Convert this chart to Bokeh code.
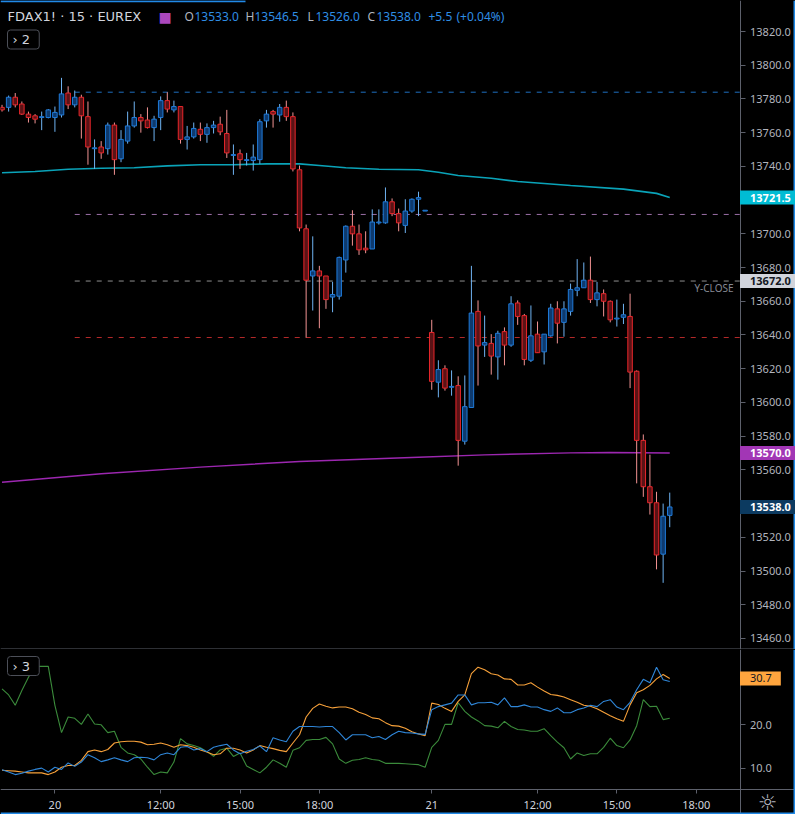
from bokeh.plotting import figure
from bokeh.models import (Range1d, FixedTicker, Label, Span, NumeralTickFormatter,
                          ColumnDataSource, LinearAxis)
from bokeh.layouts import column
from bokeh.embed import file_html
from bokeh.resources import INLINE

# ---------------- data ----------------
bar_index = list(range(102))
opens = [13775, 13775, 13781, 13777, 13771, 13770, 13769, 13769, 13769, 13770.5,
         13783.5, 13776.5, 13781, 13769.5, 13750.5, 13751.5, 13750.5, 13764.5, 13744.5, 13755,
         13764, 13769, 13767.5, 13763, 13769, 13779, 13773.5, 13775.5, 13756, 13757.5,
         13762, 13759, 13763, 13765, 13759.5, 13746.5, 13747.5, 13743.5, 13743.5, 13744,
         13767, 13772.5, 13770.5, 13775, 13769.5, 13738, 13703, 13675, 13678, 13675,
         13662.5, 13663, 13684.5, 13704.5, 13700, 13691.5, 13691, 13706.5, 13706.5, 13719,
         13712, 13705, 13713.5, 13720.5, 13713.5, 13641.5, 13612, 13620, 13609, 13610,
         13577, 13597, 13654, 13634, 13635, 13627, 13642, 13634, 13659, 13651.5,
         13625, 13640.5, 13630, 13639.5, 13655.5, 13647.5, 13654, 13666.5, 13668, 13672.5,
         13661, 13664.5, 13660, 13649.5, 13650.5, 13651, 13618.5, 13577.5, 13550, 13540.5,
         13510, 13533]
highs = [13776.5, 13782, 13783.5, 13778.5, 13772.5, 13771, 13772.5, 13774, 13775.5, 13792.5,
         13787.5, 13785, 13782.5, 13778.5, 13756, 13755, 13766, 13766, 13761.5, 13772.5,
         13778.5, 13771, 13775, 13770, 13781.5, 13784, 13779, 13775.5, 13764, 13766,
         13766, 13765.5, 13767, 13769.5, 13773.5, 13753, 13750, 13748, 13753, 13768,
         13773.5, 13773.5, 13777, 13779, 13772, 13740.5, 13705.5, 13698.5, 13681, 13675,
         13671.5, 13686.5, 13705, 13714, 13705.5, 13701.5, 13714.5, 13714.5, 13727.5, 13721,
         13715, 13720.5, 13721, 13725, 13714, 13649, 13625, 13622, 13619, 13615.5,
         13616, 13681, 13660.5, 13651.5, 13640.5, 13642.5, 13644.5, 13663, 13660.5, 13652.5,
         13657.5, 13648, 13640.5, 13658.5, 13660, 13660, 13670.5, 13685, 13683, 13686.5,
         13671.5, 13667, 13660.5, 13661, 13658.5, 13664.5, 13619, 13581, 13569, 13547,
         13540, 13546.5]
lows = [13772.5, 13772.5, 13775, 13770.5, 13766, 13765.5, 13761.5, 13768.5, 13760.5, 13769,
        13774, 13775, 13756.5, 13741, 13738.5, 13744.5, 13747, 13735, 13742.5, 13753.5,
        13763, 13760, 13762.5, 13755, 13761.5, 13772, 13772, 13753.5, 13750, 13756.5,
        13755, 13754, 13759.5, 13758.5, 13745, 13735, 13738.5, 13740.5, 13737.5, 13741.5,
        13763, 13763, 13766.5, 13767, 13737, 13701.5, 13638.5, 13654.5, 13644, 13655.5,
        13653.5, 13661, 13677, 13693, 13687.5, 13688.5, 13691, 13705.5, 13706, 13710.5,
        13701.5, 13700.5, 13712.5, 13710.5, 13713.5, 13607.5, 13603, 13607, 13604, 13562.5,
        13575, 13597, 13610, 13627, 13616.5, 13613.5, 13622, 13633, 13646, 13622,
        13624, 13629.5, 13622.5, 13639, 13635, 13639, 13651.5, 13663, 13668, 13659,
        13657, 13651, 13647.5, 13645, 13646.5, 13608.5, 13552, 13544, 13533.5, 13501,
        13493, 13526]
closes = [13773.5, 13781, 13776.5, 13771, 13769, 13768, 13769.5, 13773.5, 13772, 13783,
          13776.5, 13781, 13770, 13751.5, 13751, 13748, 13764.5, 13744, 13756, 13764,
          13769, 13767, 13763, 13768, 13779, 13774, 13775.5, 13756, 13757.5, 13762.5,
          13759, 13763, 13764.5, 13760.5, 13748, 13747, 13744, 13744, 13745.5, 13766.5,
          13771, 13771, 13775, 13769.5, 13738.5, 13703.5, 13672.5, 13678, 13675, 13661,
          13664, 13686, 13704.5, 13700, 13690.5, 13690.5, 13707, 13707, 13719, 13712,
          13706.5, 13713.5, 13720.5, 13721.5, 13714, 13612.5, 13619.5, 13608.5, 13609.5, 13577.5,
          13597.5, 13653, 13633.5, 13635.5, 13627.5, 13641, 13634, 13658.5, 13651, 13625.5,
          13639.5, 13629.5, 13640.5, 13656, 13647, 13655.5, 13667, 13668, 13672.5, 13661,
          13665, 13660, 13649, 13650, 13652, 13618, 13577.5, 13550, 13540.5, 13509.5,
          13532.5, 13538]

# moving averages (sampled bars)
ma_fast_bars = [0, 5, 10, 15, 20, 25, 30, 35, 40, 45, 48, 52, 57, 63, 66, 69, 74, 78, 86, 94, 99, 101]
ma_fast_vals = [13736.2, 13737, 13738.3, 13738.9, 13739.2, 13740.3, 13741, 13741, 13741.5, 13741.5,
                13740.5, 13739.2, 13738.3, 13738, 13736.5, 13734.6, 13733, 13731, 13728.7, 13726.5,
                13724, 13721.5]
ma_slow_bars = [0, 15, 30, 45, 63, 73, 86, 92, 101]
ma_slow_vals = [13552.7, 13557.7, 13561.6, 13565, 13567.5, 13568.9, 13570.1, 13570.3, 13570.0]

# horizontal levels
level_names = ["high", "pivot", "y-close", "low"]
level_prices = [13784, 13711.5, 13672, 13638.5]
level_start_bar = [11, 11, 11, 11]

# indicator pane (DMI)
adx_blue = [9.6, 9.1, 8.5, 8.8, 9.3, 9.7, 10.0, 9.1, 10.2, 9.7,
            11.2, 10.4, 11.4, 13.1, 12.4, 11.5, 11.9, 12.4, 11.9, 11.5,
            12.4, 12.5, 12.4, 11.9, 13.1, 13.5, 13.1, 14.8, 15.0, 14.2,
            14.5, 13.8, 14.8, 15.2, 15.5, 14.2, 13.3, 13.9, 14.3, 15.1,
            13.8, 17.0, 16.5, 16.1, 18.5, 19.6, 19.6, 19.6, 19.5, 19.6,
            19.6, 18.2, 16.5, 17.7, 17.7, 17.7, 17.0, 17.3, 16.6, 17.7,
            18.5, 18.2, 18.1, 17.9, 17.8, 23.5, 24.2, 24.6, 25.0, 26.9,
            26.9, 24.6, 25.1, 25.1, 25.2, 24.6, 26.2, 24.2, 24.2, 24.6,
            24.1, 24.1, 23.5, 23.1, 23.9, 22.8, 22.8, 23.5, 23.9, 24.5,
            24.2, 25.4, 25.8, 24.1, 23.5, 25.2, 28.1, 30.5, 29.7, 33.3,
            30.4, 30.0]
di_orange = [9.5, 9.4, 9.3, 9.1, 8.9, 8.9, 8.9, 8.5, 9.1, 10.2,
             10.6, 10.6, 11.8, 13.8, 14.2, 13.8, 14.3, 15.8, 16.1, 16.2,
             16.2, 16.0, 15.4, 15.5, 15.8, 15.4, 14.8, 15.4, 15.2, 14.8,
             14.2, 13.7, 13.1, 13.3, 14.6, 14.6, 14.2, 13.5, 14.2, 15.2,
             14.8, 14.5, 14.1, 13.8, 15.8, 17.7, 21.8, 23.8, 24.8, 24.3,
             23.9, 24.1, 24.1, 23.7, 22.9, 22.4, 21.6, 21.4, 20.5, 19.8,
             19.7, 19.2, 18.4, 17.9, 17.5, 25.0, 24.7, 23.8, 23.1, 25.4,
             26.9, 31.8, 33.3, 32.7, 31.8, 31.5, 30.6, 30.5, 29.2, 29.2,
             29.7, 28.7, 27.8, 27.0, 26.8, 26.4, 25.8, 25.2, 24.5, 24.3,
             23.7, 22.9, 22.1, 21.4, 20.8, 24.6, 27.4, 28.1, 29.1, 30.6,
             31.6, 30.7]
di_green = [28.3, 26.9, 24.5, 27.9, 31.0, 33.5, 33.5, 33.5, 24.5, 18.2,
            21.8, 21.5, 20.1, 22.5, 20.2, 20.0, 18.2, 18.5, 14.8, 13.5,
            13.1, 12.1, 10.2, 8.5, 9.1, 8.9, 11.4, 16.8, 15.6, 15.2,
            14.7, 13.8, 12.7, 14.2, 14.6, 12.7, 13.5, 10.5, 9.7, 8.9,
            10.2, 11.9, 11.1, 10.2, 14.1, 14.7, 16.4, 16.6, 16.6, 17.1,
            15.6, 12.1, 11.1, 11.8, 12.0, 12.4, 12.0, 11.8, 11.1, 11.1,
            11.1, 11.0, 10.9, 10.8, 10.2, 14.8, 16.4, 20.1, 20.1, 25.1,
            23.1, 21.8, 20.9, 19.8, 19.7, 19.3, 20.8, 19.6, 18.9, 18.8,
            18.5, 18.5, 19.1, 17.5, 16.0, 14.7, 12.1, 13.5, 12.9, 13.3,
            13.3, 14.8, 16.9, 15.2, 14.7, 16.5, 19.8, 25.8, 24.2, 24.3,
            21.2, 21.5]

time_tick_bars = [8, 24, 36, 48, 65, 81, 93, 105]
time_tick_labels = ["20", "12:00", "15:00", "18:00", "21", "12:00", "15:00", "18:00"]
price_ticks = [13460, 13480, 13500, 13520, 13560, 13580, 13600, 13620, 13640,
               13660, 13680, 13700, 13740, 13760, 13780, 13800, 13820]
dmi_ticks = [10, 20]

# ---------------- layout helpers ----------------
W = 795
H1, H2, HB = 649, 140, 25          # price pane, indicator pane, time-axis strip
PXU = 6.6111                       # pixels per bar
X0 = -0.23
XE = X0 + W / PXU                  # right edge of the canvas in bar units
P0, P1 = 13453.46, 13838.39
D0, D1 = 5.06, 37.39
DB = D0 - HB / H2 * (D1 - D0)

def X(px):
    return X0 + px / PXU

def YP(py):
    return P1 - py / H1 * (P1 - P0)

def YD(py):
    return D1 - (py - H1) / H2 * (D1 - D0)

XA = X(739.5)                      # price-axis line position

BG = "#000000"
AXC = "#5d606b"
TXT = "#b2b5be"
FONT = "Noto Sans"
EDGE = "#2189e6"

def style_axis(ax):
    ax.axis_line_color = AXC
    ax.major_tick_line_color = AXC
    ax.minor_tick_line_color = None
    ax.major_tick_out = 5
    ax.major_tick_in = 0
    ax.major_label_text_color = TXT
    ax.major_label_text_font = FONT
    ax.major_label_text_font_size = "11px"
    ax.major_label_standoff = 5

xr = Range1d(X0, XE)

def base_fig(h, yr):
    f = figure(frame_width=W, frame_height=h, x_range=xr, y_range=yr,
               x_axis_location=None, y_axis_location=None,
               output_backend="svg", toolbar_location=None,
               background_fill_color=BG, border_fill_color=BG, outline_line_color=None,
               min_border_left=0, min_border_top=0, min_border_bottom=0, min_border_right=0)
    f.grid.visible = False
    return f

# ---------------- price pane ----------------
p1 = base_fig(H1, Range1d(P0, P1))
ay1 = LinearAxis(fixed_location=XA, ticker=FixedTicker(ticks=price_ticks),
                 formatter=NumeralTickFormatter(format="0.0"))
style_axis(ay1)
p1.add_layout(ay1, "right")

up = [c >= o for o, c in zip(opens, closes)]
src = ColumnDataSource(dict(
    x=bar_index, high=highs, low=lows,
    top=[max(o, c) for o, c in zip(opens, closes)],
    bot=[min(o, c) for o, c in zip(opens, closes)],
    wick=["#6fb3f2" if u else "#f29393" for u in up],
    fill=["#0e3a6e" if u else "#5a1316" for u in up],
    edge=["#1f7ad8" if u else "#e8262b" for u in up],
))

lvl_colors = ["#1e6fbf", "#9b6fa6", "#8f8f8f", "#b52a2a"]
p1.segment(x0=level_start_bar, y0=level_prices, x1=[XA] * 4, y1=level_prices,
           line_color=lvl_colors, line_width=1, line_dash="5 6")

p1.line(ma_fast_bars, ma_fast_vals, line_color="#0aa3b8", line_width=1.6)
p1.line(ma_slow_bars, ma_slow_vals, line_color="#9c27b0", line_width=1.4)

p1.segment(x0="x", y0="low", x1="x", y1="high", line_color="wick", line_width=1, source=src)
p1.vbar(x="x", top="top", bottom="bot", width=0.68, fill_color="fill",
        line_color="edge", line_width=1, source=src)

# pane separator and window edges
p1.add_layout(Span(location=YP(648.5), dimension="width", line_color=AXC, line_width=1))
p1.add_layout(Span(location=X(794), dimension="height", line_color=EDGE, line_width=2))
p1.segment(x0=[X(0)], y0=[YP(0.8)], x1=[X(245)], y1=[YP(0.8)], line_color=EDGE, line_width=2)

# header
p1.add_layout(Label(x=X(7), y=YP(16), text="FDAX1! · 15 · EUREX", text_color="#d1d4dc",
                    text_font="DejaVu Sans", text_font_size="13px", text_baseline="middle"))
p1.add_layout(Label(x=X(158), y=YP(16), text="■", text_color="#ab47bc",
                    text_font="DejaVu Sans", text_font_size="14px", text_baseline="middle"))
chg = closes[-1] - closes[-2]
pct = chg / closes[-2] * 100
VAL = "#2f8ee5"
hdr = [(184, "O", TXT), (194, f"{opens[-1]:.1f}", VAL),
       (245, "H", TXT), (254, f"{highs[-1]:.1f}", VAL),
       (307, "L", TXT), (315, f"{lows[-1]:.1f}", VAL),
       (367, "C", TXT), (376, f"{closes[-1]:.1f}", VAL),
       (428, f"{chg:+.1f}", VAL), (456, f"({pct:+.2f}%)", VAL)]
for px, t, col in hdr:
    p1.add_layout(Label(x=X(px), y=YP(16), text=t, text_color=col, text_font=FONT,
                        text_font_size="12px", text_baseline="middle"))

p1.add_layout(Label(x=X(7), y=YP(39), text="›  2", text_color="#d1d4dc", text_font="DejaVu Sans",
                    text_font_size="13px", text_baseline="middle",
                    border_line_color="#4c4f58", border_line_width=1, background_fill_color=BG,
                    padding=dict(left=5, right=5, top=2, bottom=2), border_radius=3))

p1.add_layout(Label(x=X(733), y=YP(287), text="Y-CLOSE", text_color="#868993", text_font=FONT,
                    text_font_size="10px", text_align="right", text_baseline="middle"))

def value_box(fig, yv, txt, bg, fg, bold=True, pr=7):
    fig.add_layout(Label(x=XA, y=yv, text=txt, text_color=fg, text_font=FONT,
                         text_font_size="11px", text_font_style="bold" if bold else "normal",
                         text_align="left", text_baseline="middle",
                         background_fill_color=bg,
                         padding=dict(left=10, right=pr, top=3, bottom=3)))

value_box(p1, ma_fast_vals[-1], f"{ma_fast_vals[-1]:.1f}", "#00bcd4", "#ffffff")
value_box(p1, level_prices[2], f"{level_prices[2]:.1f}", "#d1d4dc", "#131722")
value_box(p1, ma_slow_vals[-1], f"{ma_slow_vals[-1]:.1f}", "#a236b5", "#ffffff")
value_box(p1, closes[-1], f"{closes[-1]:.1f}", "#0c3a60", "#ffffff")

# ---------------- indicator pane + time axis ----------------
p2 = base_fig(H2 + HB, Range1d(DB, D1))
ay2 = LinearAxis(fixed_location=XA, ticker=FixedTicker(ticks=dmi_ticks),
                 formatter=NumeralTickFormatter(format="0.0"))
style_axis(ay2)
p2.add_layout(ay2, "right")
ax2 = LinearAxis(fixed_location=D0, ticker=FixedTicker(ticks=time_tick_bars))
style_axis(ax2)
ax2.major_tick_out = 4
ax2.major_label_standoff = 3
ax2.major_label_text_color = "#d1d4dc"
ax2.major_label_overrides = {b: l for b, l in zip(time_tick_bars, time_tick_labels)}
p2.add_layout(ax2, "below")

p2.line(bar_index, di_green, line_color="#3b8b3b", line_width=1.1)
p2.line(bar_index, di_orange, line_color="#f7a13a", line_width=1.1)
p2.line(bar_index, adx_blue, line_color="#2f86d8", line_width=1.1)

p2.add_layout(Label(x=X(7), y=YD(665.5), text="›  3", text_color="#d1d4dc", text_font="DejaVu Sans",
                    text_font_size="13px", text_baseline="middle",
                    border_line_color="#4c4f58", border_line_width=1, background_fill_color=BG,
                    padding=dict(left=5, right=5, top=2, bottom=2), border_radius=3))

value_box(p2, di_orange[-1], f"{di_orange[-1]:.1f}", "#ffa53e", "#131722", bold=False, pr=9)

p2.add_layout(Label(x=X(767), y=YD(802), text="☼", text_color=TXT, text_font="DejaVu Sans",
                    text_font_size="22px", text_align="center", text_baseline="middle"))

p2.add_layout(Span(location=X(794), dimension="height", line_color=EDGE, line_width=2))
p2.add_layout(Span(location=YD(813), dimension="width", line_color=EDGE, line_width=2))

layout = column(p1, p2, spacing=0, styles={"background-color": "#000000"})
open("out.html", "w").write(file_html(layout, INLINE))
